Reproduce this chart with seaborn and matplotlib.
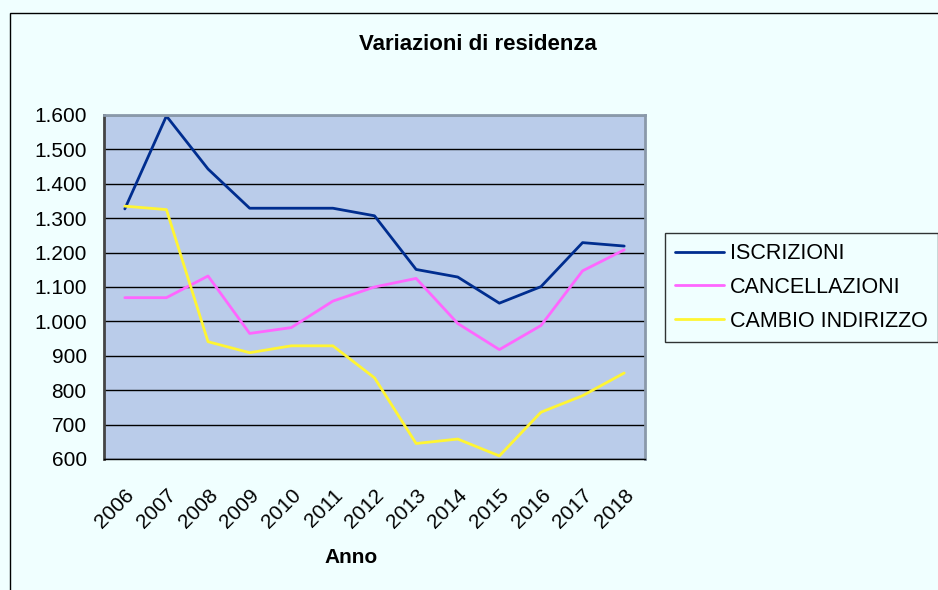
import numpy as np
import pandas as pd
import matplotlib.pyplot as plt
import seaborn as sns
from matplotlib.patches import Rectangle
from matplotlib.transforms import ScaledTranslation

# dati
anni = [2006, 2007, 2008, 2009, 2010, 2011, 2012, 2013, 2014, 2015, 2016, 2017, 2018]
iscrizioni = [1327, 1597, 1443, 1329, 1329, 1329, 1307, 1151, 1129, 1053, 1101, 1229, 1219]
cancellazioni = [1069, 1069, 1132, 965, 982, 1059, 1100, 1125, 994, 918, 988, 1147, 1208]
cambio_indirizzo = [1335, 1325, 941, 909, 929, 929, 836, 645, 658, 609, 736, 784, 850]
serie = ['ISCRIZIONI', 'CANCELLAZIONI', 'CAMBIO INDIRIZZO']
colori = ['#002D8F', '#FF66FF', '#FFF533']
y_ticks = [600, 700, 800, 900, 1000, 1100, 1200, 1300, 1400, 1500, 1600]


def fmt(v):
    # separatore delle migliaia all'italiana
    return f'{v:,}'.replace(',', '.')


if __name__ == '__main__':
    sns.set_style('white')
    plt.rcParams['font.family'] = ['Liberation Sans', 'DejaVu Sans']
    plt.rcParams['text.color'] = 'black'
    plt.rcParams['xtick.color'] = 'black'
    plt.rcParams['ytick.color'] = 'black'
    plt.rcParams['axes.labelcolor'] = 'black'

    df = pd.DataFrame({
        'Anno': anni * 3,
        'valore': iscrizioni + cancellazioni + cambio_indirizzo,
        'serie': [serie[0]] * len(anni) + [serie[1]] * len(anni) + [serie[2]] * len(anni),
    })

    fig = plt.figure(figsize=(9.38, 5.9), dpi=100, facecolor='#F0FFFF')
    ax = fig.add_axes([104 / 938, 1 - 459 / 590, 541 / 938, 344 / 590])
    ax.set_facecolor('#BACCEA')

    sns.lineplot(data=df, x='Anno', y='valore', hue='serie', hue_order=serie,
                 palette=colori, linewidth=2, ax=ax, legend=False)

    ax.set_xlim(2005.5, 2018.5)
    ax.set_ylim(600, 1600)
    ax.set_yticks(y_ticks)
    ax.set_yticklabels([fmt(v) for v in y_ticks], fontsize=15)
    ax.yaxis.grid(True, color='black', linewidth=1)
    ax.set_axisbelow(True)

    # etichette degli anni ruotate, spostate un po' a sinistra
    ax.set_xticks(anni)
    ax.set_xticklabels([str(a) for a in anni], rotation=45, ha='right', va='top',
                       rotation_mode='anchor', fontsize=15)
    sposta = ScaledTranslation(-16 / 100, 0, fig.dpi_scale_trans)
    for lab in ax.get_xticklabels():
        lab.set_transform(lab.get_transform() + sposta)
    # tacche ai bordi delle categorie
    ax.set_xticks(np.arange(2005.5, 2019, 1), minor=True)
    ax.tick_params(axis='x', which='major', length=0, pad=19)
    ax.tick_params(axis='x', which='minor', length=5, width=1, color='black', direction='out')
    ax.tick_params(axis='y', length=5, width=1, color='black', direction='out', pad=7.5)

    ax.set_xlabel('Anno', fontsize=15, fontweight='bold')
    ax.xaxis.set_label_coords((351 - 104) / 541, -0.285)
    ax.xaxis.label.set_va('center')
    ax.set_ylabel('')
    for lato in ['top', 'right']:
        ax.spines[lato].set_color('#8A99AA')
        ax.spines[lato].set_linewidth(2)
    ax.spines['left'].set_color('#444444')
    ax.spines['left'].set_linewidth(2)
    ax.spines['bottom'].set_color('black')
    ax.spines['bottom'].set_linewidth(1)

    fig.text(478 / 938, 1 - 45 / 590, 'Variazioni di residenza', ha='center', va='center',
             fontsize=16, fontweight='bold')

    # legenda a destra
    handles = [plt.Line2D([], [], color=c, linewidth=2) for c in colori]
    leg = fig.legend(handles, serie, loc='center left', bbox_to_anchor=(665 / 938, 1 - 287.5 / 590),
                     frameon=True, fancybox=False, fontsize=15.5, handlelength=2.3,
                     handletextpad=0.28, borderpad=0.45, labelspacing=0.6, borderaxespad=0)
    leg.get_frame().set_edgecolor('black')
    leg.get_frame().set_linewidth(1)
    leg.get_frame().set_facecolor('#F0FFFF')

    # bordo dell'area del grafico
    fig.patches.append(Rectangle((10 / 938, -0.01), 1.0, 1 - 13 / 590 + 0.01,
                                 transform=fig.transFigure, fill=False,
                                 edgecolor='black', linewidth=1))

    plt.savefig('out.png', dpi=100, facecolor=fig.get_facecolor())
